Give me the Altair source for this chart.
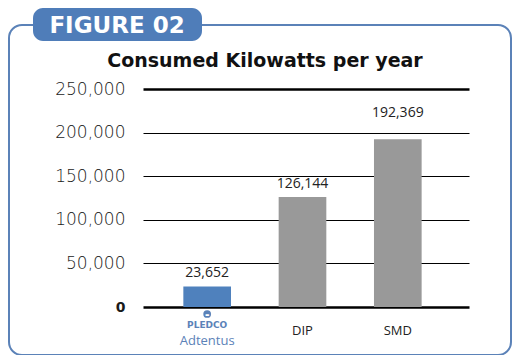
import altair as alt
import pandas as pd

categories = ["Adtentus", "DIP", "SMD"]
values = [23652, 126144, 192369]
value_labels = ["23,652", "126,144", "192,369"]
axis_labels = ["", "DIP", "SMD"]
bar_colors = ["#4f81bd", "#999999", "#999999"]
y_ticks = [0, 50000, 100000, 150000, 200000, 250000]
title_text = "Consumed Kilowatts per year"
badge_text = "FIGURE 02"
brand_text = "PLEDCO"
brand_sub = "Adtentus"

FONT = "Open Sans"
WIDE = "DejaVu Sans"
BLUE = "#5b82b8"

df = pd.DataFrame({
    "cat": categories,
    "value": values,
    "vlabel": value_labels,
    "xlabel": axis_labels,
    "color": bar_colors,
})

W, H = 326, 218

xscale = alt.Scale(domain=categories, paddingInner=0.5, paddingOuter=0.46, align=0.46)
yscale = alt.Scale(domain=[0, 250000], nice=False)

X = alt.X("cat:N", scale=xscale, sort=categories)

base = alt.Chart(df)

bars = base.mark_bar().encode(
    x=alt.X("cat:N", scale=xscale, sort=categories,
            axis=alt.Axis(title=None, labels=False, ticks=False, domain=False, grid=False)),
    y=alt.Y("value:Q", scale=yscale,
            axis=alt.Axis(
                title=None, values=y_ticks, format=",d", ticks=False, domain=False,
                grid=True, gridColor="#000000", zindex=0,
                gridWidth={"condition": {"test": "datum.value == 0 || datum.value == 250000", "value": 2.5}, "value": 1.2},
                labelFont=WIDE, labelColor="#1a1a1a", labelPadding=18,
                labelFontSize={"condition": {"test": "datum.value == 0", "value": 14}, "value": 17},
                labelFontWeight={"condition": {"test": "datum.value == 0", "value": "bold"}, "value": 200},
            )),
    color=alt.Color("color:N", scale=None),
)

vlabels_low = base.transform_filter(alt.datum.cat != "SMD").mark_text(
    font=FONT, fontSize=14, color="#222222", dy=-13, baseline="middle").encode(
    x=X,
    y=alt.Y("value:Q", scale=yscale),
    text="vlabel:N",
)
vlabels_high = base.transform_filter(alt.datum.cat == "SMD").mark_text(
    font=FONT, fontSize=14, color="#222222", dy=-26, baseline="middle").encode(
    x=X,
    y=alt.Y("value:Q", scale=yscale),
    text="vlabel:N",
)

xlabels = base.mark_text(font=FONT, fontSize=13, color="#222222", baseline="middle").encode(
    x=X,
    y=alt.value(242),
    text="xlabel:N",
)

brand_df = df[df["cat"] == "Adtentus"]
brand = alt.Chart(brand_df).mark_text(font=WIDE, fontSize=9, fontWeight="bold", color=BLUE, baseline="middle").encode(
    x=X,
    y=alt.value(236),
    text=alt.value(brand_text),
)
brand2 = alt.Chart(brand_df).mark_text(font=FONT, fontSize=13, color=BLUE, baseline="middle").encode(
    x=X,
    y=alt.value(252),
    text=alt.value(brand_sub),
)
icon = alt.Chart(brand_df).mark_point(shape="circle", filled=True, size=60, color=BLUE, opacity=1).encode(
    x=X,
    y=alt.value(225),
)
icon_t = alt.Chart(brand_df).mark_text(font=FONT, fontSize=7, fontWeight="bold", color="white", baseline="middle").encode(
    x=X,
    y=alt.value(225.5),
    text=alt.value("="),
)

one = alt.Data(values=[{"a": 1}])
frame = alt.Chart(one).mark_rect(fill="transparent", stroke=BLUE, strokeWidth=2, cornerRadius=13).encode(
    x=alt.value(-134), x2=alt.value(368), y=alt.value(-64), y2=alt.value(266),
)
badge = alt.Chart(one).mark_rect(fill="#4f7db9", cornerRadius=10).encode(
    x=alt.value(-110), x2=alt.value(59), y=alt.value(-81), y2=alt.value(-48),
)
badge_t = alt.Chart(one).mark_text(font=WIDE, fontSize=23, fontWeight="bold", color="white", baseline="middle").encode(
    x=alt.value(-26), y=alt.value(-63), text=alt.value(badge_text),
)
title = alt.Chart(one).mark_text(font=WIDE, fontSize=19, fontWeight="bold", color="#111111", baseline="middle").encode(
    x=alt.value(122), y=alt.value(-28), text=alt.value(title_text),
)

chart = alt.layer(
    frame, badge, badge_t, title, bars, vlabels_low, vlabels_high, xlabels, brand, brand2, icon, icon_t
).properties(
    width=W, height=H,
    padding={"left": 135, "top": 81, "right": 44, "bottom": 48},
    autosize=alt.AutoSizeParams(type="none"),
).configure(background="white").configure_view(strokeWidth=0).configure_axis(domain=False)

chart.save("out.html", embed_options={"renderer": "svg", "actions": False})
